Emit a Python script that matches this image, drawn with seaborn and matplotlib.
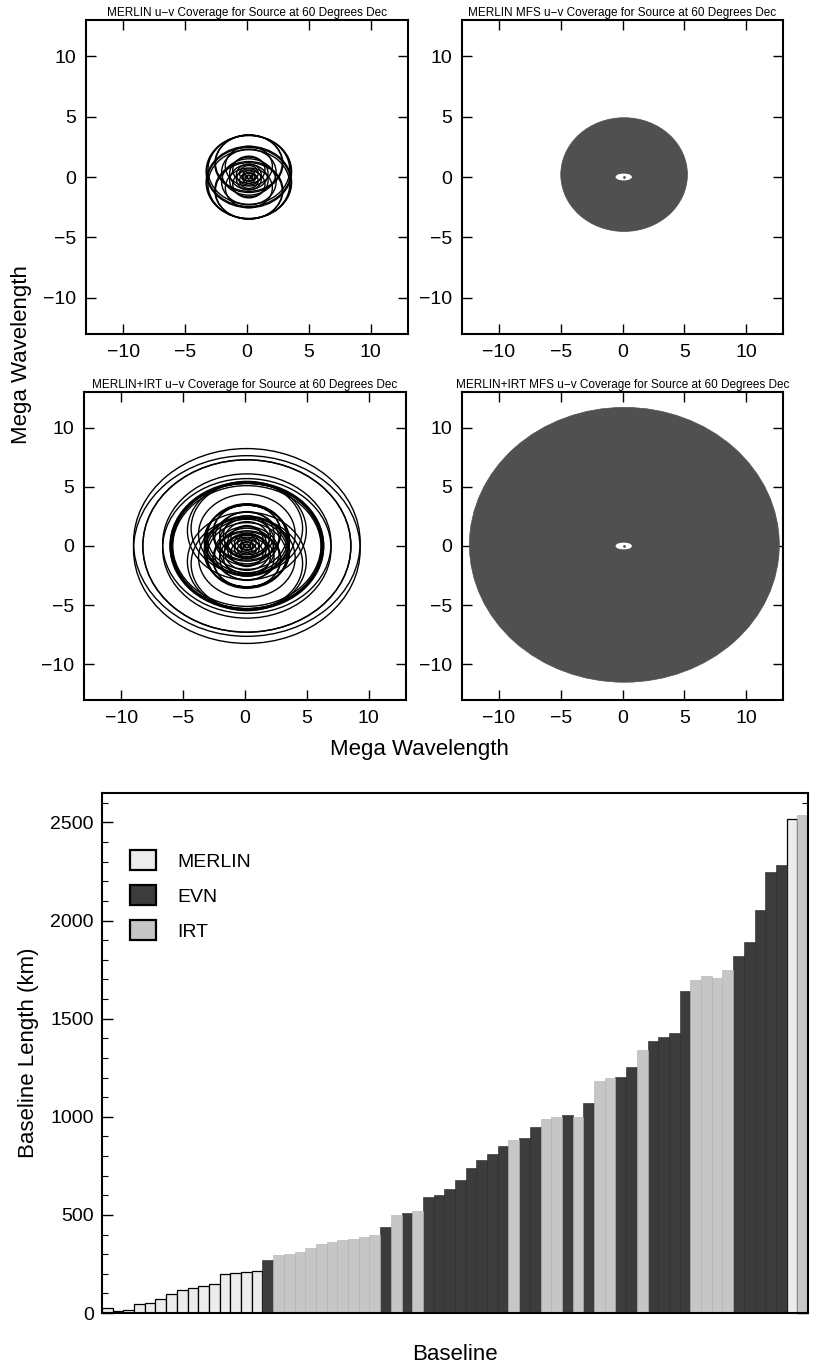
import numpy as np
import pandas as pd
import matplotlib
matplotlib.use("Agg")
import matplotlib.pyplot as plt
from matplotlib.patches import Ellipse, Patch
import seaborn as sns

# ---- u-v tracks (Mega Wavelength) ----
source_dec = 60.0
track_u0 = 0.15  # tracks are centred slightly right of u = 0
# MERLIN tracks: semi-major axis in u, centre offset in v
merlin_u = [3.45, 3.40, 3.30, 2.75, 2.70, 2.20, 1.90, 1.55, 1.30, 1.00, 0.75, 0.50, 0.30, 0.15]
merlin_v0 = [0.45, 0.50, 0.60, 1.10, 1.15, 0.40, 0.90, 0.30, 0.60, 0.20, 0.30, 0.10, 0.10, 0.00]
# extra IRT tracks added in the MERLIN+IRT plot
irt_u = [9.15, 8.40, 6.80, 6.20, 6.10, 6.00, 4.80, 4.50, 3.90, 3.20, 2.60, 2.20, 1.80]
irt_v0 = [0.30, 0.00, 0.20, 0.05, 0.00, 0.10, 1.30, 1.50, 1.00, 0.80, 0.60, 1.00, 0.50]

# MFS coverage: filled disks (centre u, centre v, semi-axis u, semi-axis v)
mfs_merlin = [0.13, 0.20, 5.13, 4.71]
mfs_irt = [0.15, 0.10, 12.55, 11.60]

# ---- baseline lengths (km), sorted ----
bar_len = [25, 10, 15, 45, 50, 70, 95, 115, 125, 140, 150, 200, 205, 210, 215,
           270, 295, 300, 310, 330, 350, 360, 370, 375, 385, 395,
           440, 500, 510, 520, 590, 600, 630, 680, 740, 780, 810, 850,
           880, 890, 950, 990, 1000, 1010, 1000, 1070, 1180, 1200, 1202, 1253, 1340,
           1388, 1406, 1427, 1643, 1699, 1716, 1707, 1750, 1818, 1889, 2056, 2248, 2281,
           2519, 2540]
bar_array = (["MERLIN"] * 15 + ["EVN"] + ["IRT"] * 10 +
             ["EVN", "IRT", "EVN", "IRT"] + ["EVN"] * 8 +
             ["IRT", "EVN", "EVN", "IRT", "IRT", "EVN", "IRT", "EVN", "IRT", "IRT",
              "EVN", "EVN", "IRT"] +
             ["EVN"] * 4 + ["IRT"] * 4 + ["EVN"] * 5 + ["MERLIN", "IRT"])
arrays = ["MERLIN", "EVN", "IRT"]
colors = {"MERLIN": "#ececec", "EVN": "#3c3c3c", "IRT": "#c6c6c6"}

sns.set_theme(style="ticks")
plt.rcParams["font.family"] = ["Liberation Sans", "DejaVu Sans"]
plt.rcParams["text.color"] = "black"
plt.rcParams["axes.labelcolor"] = "black"
plt.rcParams["xtick.color"] = "black"
plt.rcParams["ytick.color"] = "black"

fig = plt.figure(figsize=(8.15, 13.68), dpi=100)


def box(x0, y0, x1, y1):
    return [x0 / 815, 1 - y1 / 1368, (x1 - x0) / 815, (y1 - y0) / 1368]


ax_tl = fig.add_axes(box(86, 20, 408, 334))
ax_tr = fig.add_axes(box(462, 20, 783, 334))
ax_bl = fig.add_axes(box(84, 392, 406, 700))
ax_br = fig.add_axes(box(462, 392, 783, 700))
ax_bar = fig.add_axes(box(102, 793, 808, 1313))

squash = np.sin(np.radians(source_dec))


def draw_tracks(ax, us, v0s):
    for u, v0 in zip(us, v0s):
        for sgn in (1, -1):
            ax.add_patch(Ellipse((track_u0, sgn * v0), 2 * u, 2 * u * squash,
                                 fill=False, ec="black", lw=1.0))


def draw_mfs(ax, disk):
    cu, cv, su, sv = disk
    ax.add_patch(Ellipse((cu, cv), 2 * su, 2 * sv, fc="#505050", ec="#505050", lw=0.5))
    ax.add_patch(Ellipse((0.1, 0.0), 1.2, 0.45, fc="white", ec="white"))
    ax.plot([0.1], [0.0], marker=".", ms=2, color="#505050")


titles = ["MERLIN u\u2212v Coverage for Source at 60 Degrees Dec",
          "MERLIN MFS u\u2212v Coverage for Source at 60 Degrees Dec",
          "MERLIN+IRT u\u2212v Coverage for Source at 60 Degrees Dec",
          "MERLIN+IRT MFS u\u2212v Coverage for Source at 60 Degrees Dec"]

draw_tracks(ax_tl, merlin_u, merlin_v0)
draw_mfs(ax_tr, mfs_merlin)
draw_tracks(ax_bl, merlin_u, merlin_v0)
draw_tracks(ax_bl, irt_u, irt_v0)
draw_mfs(ax_br, mfs_irt)

for ax, t in zip([ax_tl, ax_tr, ax_bl, ax_br], titles):
    ax.set_xlim(-13, 13)
    ax.set_ylim(-13, 13)
    ax.set_xticks([-10, -5, 0, 5, 10])
    ax.set_yticks([-10, -5, 0, 5, 10])
    ax.tick_params(direction="in", length=7, width=1, top=True, right=True,
                   labelsize=14, pad=7, color="black", labelcolor="black")
    for s in ax.spines.values():
        s.set_linewidth(1.5)
        s.set_color("black")
    ax.set_title(t, fontsize=8.5, pad=3, color="black")

fig.text(0.026, 1 - 355 / 1368, "Mega Wavelength", rotation=90, fontsize=16,
         ha="center", va="center", color="black")
fig.text(0.515, 1 - 750 / 1368, "Mega Wavelength", fontsize=16,
         ha="center", va="center", color="black")

# ---- bar chart ----
df = pd.DataFrame({"baseline": [str(i) for i in range(len(bar_len))],
                   "length": bar_len, "array": bar_array})
sns.barplot(data=df, x="baseline", y="length", hue="array", hue_order=arrays,
            palette=colors, dodge=False, width=1.0, legend=False, ax=ax_bar,
            saturation=1)
for p in ax_bar.patches:
    fc = p.get_facecolor()
    if fc[0] > 0.9:
        p.set_edgecolor("black")
        p.set_linewidth(0.9)
    elif fc[0] < 0.4:
        p.set_edgecolor("#222222")
        p.set_linewidth(0.4)
    else:
        p.set_edgecolor("#b0b0b0")
        p.set_linewidth(0.4)

ax_bar.set_xlim(-0.5, len(bar_len) - 0.5)
ax_bar.set_ylim(0, 2650)
ax_bar.set_yticks([0, 500, 1000, 1500, 2000, 2500])
ax_bar.set_yticks(np.arange(0, 2650, 100), minor=True)
ax_bar.set_xticks([])
ax_bar.tick_params(axis="y", which="major", direction="in", length=8, width=1,
                   right=True, labelsize=14, pad=6, color="black", labelcolor="black")
ax_bar.tick_params(axis="y", which="minor", direction="in", length=4, width=0.8,
                   right=True, color="black")
for s in ax_bar.spines.values():
    s.set_linewidth(1.5)
    s.set_color("black")
ax_bar.set_ylabel("Baseline Length (km)", fontsize=16, labelpad=8, color="black")
ax_bar.set_xlabel("Baseline", fontsize=16, labelpad=22, color="black")

handles = [Patch(facecolor=colors[a], edgecolor="black", linewidth=1.6, label=a)
           for a in arrays]
ax_bar.legend(handles=handles, loc="upper left", bbox_to_anchor=(0.04, 0.89),
              frameon=False, fontsize=14, handlelength=1.3, handleheight=1.2,
              handletextpad=1.1, labelspacing=0.75, borderpad=0, borderaxespad=0)

fig.savefig("out.png", dpi=100)
